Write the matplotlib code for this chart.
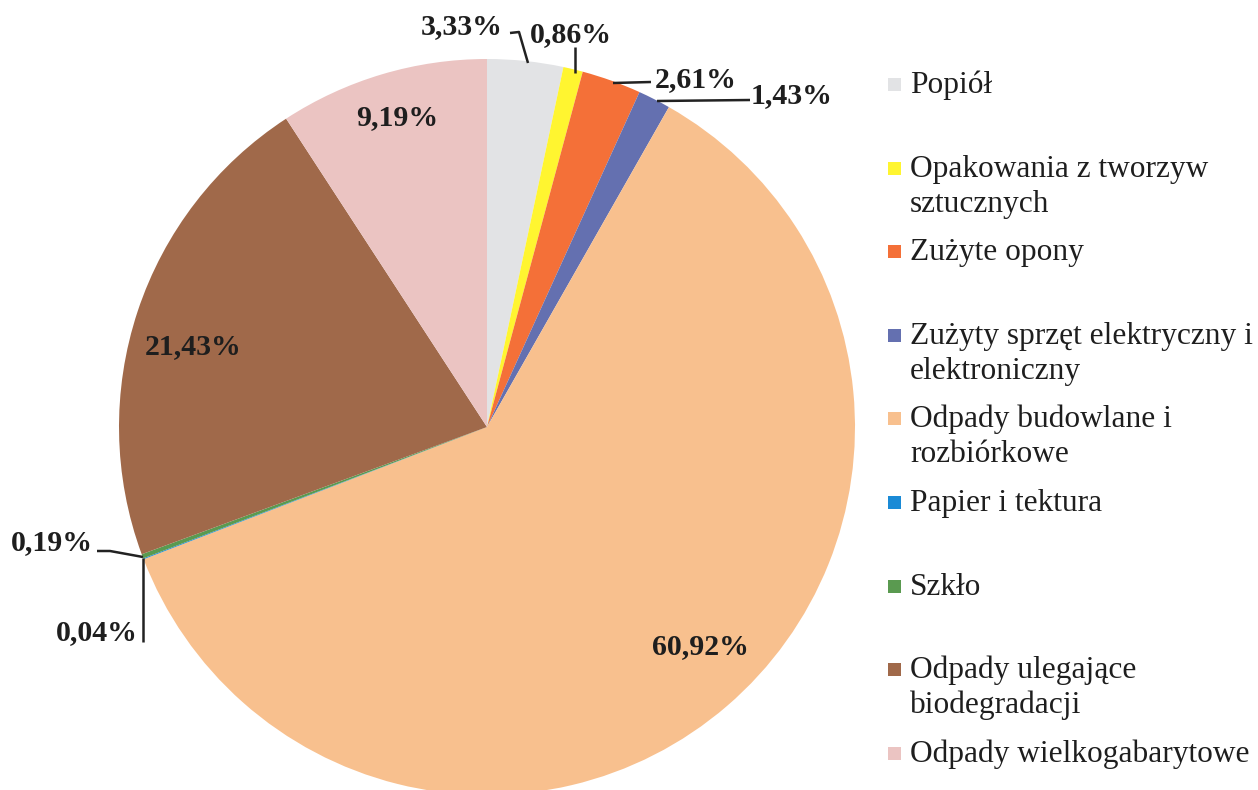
import matplotlib.pyplot as plt

categories = [
    "Popiół",
    "Opakowania z tworzyw\nsztucznych",
    "Zużyte opony",
    "Zużyty sprzęt elektryczny i\nelektroniczny",
    "Odpady budowlane i\nrozbiórkowe",
    "Papier i tektura",
    "Szkło",
    "Odpady ulegające\nbiodegradacji",
    "Odpady wielkogabarytowe",
]
shares = [3.33, 0.86, 2.61, 1.43, 60.92, 0.04, 0.19, 21.43, 9.19]
colors = ["#e2e3e5", "#fff530", "#f47038", "#6470b0", "#f8c08e",
          "#1a8ad6", "#5a9a50", "#a0694a", "#ebc4c2"]

# label positions in pixels (y from top), leader line points
label_pos = [(462, 27), (571, 35), (696, 80), (792, 96), (700, 647),
             (97, 633), (52, 543), (193, 347), (397, 118)]
leaders = [
    [(510, 33), (519, 32), (528, 63)],
    [(575, 47), (575, 73)],
    [(651, 82), (613, 83)],
    [(750, 100), (657, 101)],
    None,
    [(143, 642), (143, 558)],
    [(97, 551), (110, 551), (143, 557)],
    None,
    None,
]

W, H = 1258, 790
plt.rcParams['font.family'] = ['Liberation Serif', 'DejaVu Serif']

fig = plt.figure(figsize=(W / 100, H / 100), dpi=100)
ax = fig.add_axes([0, 0, 1, 1])

ax.pie(shares, colors=colors, startangle=90, counterclock=False,
       center=(487, H - 427), radius=368, frame=True,
       wedgeprops=dict(linewidth=0))
ax.set_xlim(0, W)
ax.set_ylim(0, H)
ax.set_aspect('equal')
ax.axis('off')

for val, (x, y), pts in zip(shares, label_pos, leaders):
    txt = ("%.2f%%" % val).replace(".", ",")
    ax.text(x, H - y, txt, ha='center', va='center', fontsize=21.5,
            fontweight='bold', color='#1e1e1e')
    if pts:
        ax.plot([p[0] for p in pts], [H - p[1] for p in pts],
                color='#222222', lw=1.8, solid_capstyle='butt')

# legend, one slot per entry, baselines every ~83.6 px
for i, (name, c) in enumerate(zip(categories, colors)):
    base = 93 + i * 83.6
    ax.add_patch(plt.Rectangle((888, H - base + 2), 13, 13, color=c, lw=0))
    for k, line in enumerate(name.split("\n")):
        ax.text(910, H - base - k * 35, line, ha='left', va='baseline',
                fontsize=22.6, color='#1e1e1e')

fig.savefig("out.png", dpi=100)
